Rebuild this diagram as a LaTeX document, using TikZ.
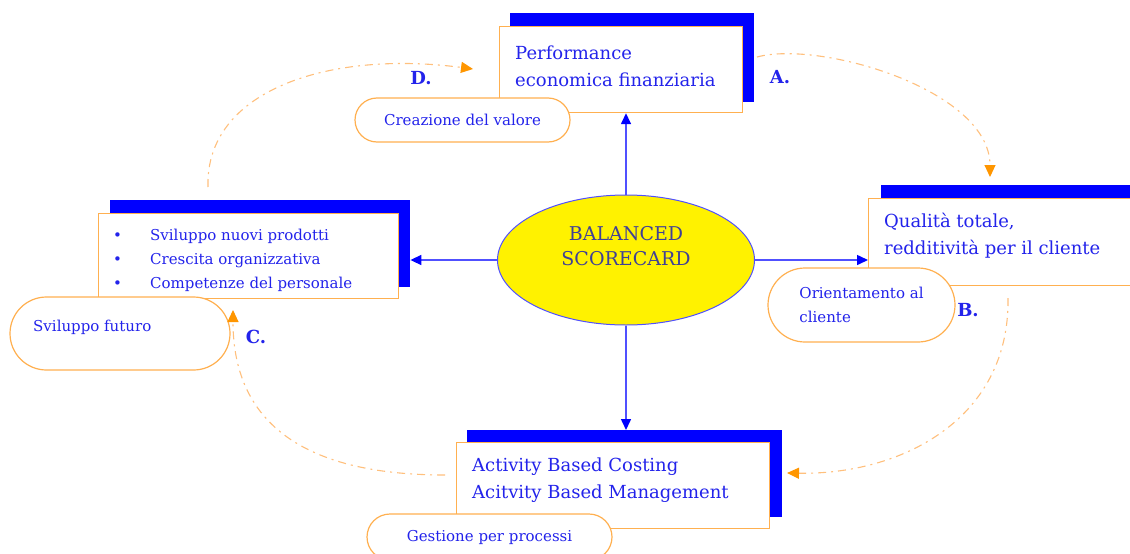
\documentclass[tikz,border=0pt]{standalone}
\usepackage{fontspec}
\setmainfont{DejaVu Serif}
\usetikzlibrary{arrows.meta,shapes.misc,shapes.geometric}
\definecolor{txtblue}{RGB}{35,35,235}
\definecolor{shblue}{RGB}{0,0,255}
\definecolor{boxorange}{RGB}{255,176,80}
\definecolor{dashorange}{RGB}{255,192,125}
\definecolor{tiporange}{RGB}{255,150,0}
\definecolor{linkblue}{RGB}{80,80,255}
\definecolor{ellblue}{RGB}{64,64,150}
\begin{document}
\begin{tikzpicture}[x=1pt,y=-1pt,
  shadowbox/.style={fill=shblue, draw=none, inner sep=0pt, anchor=north west},
  card/.style={draw=boxorange, line width=1.2pt, fill=white, inner sep=0pt, anchor=north west},
  cardtext/.style={text=txtblue, font=\fontsize{18}{27}\selectfont, align=left, anchor=west, inner sep=0pt},
  listtext/.style={text=txtblue, font=\fontsize{15}{24}\selectfont, align=left, anchor=west, inner sep=0pt},
  pill/.style={rounded rectangle, draw=boxorange, line width=1.2pt, fill=white, inner sep=0pt, anchor=center,
    text=txtblue, font=\fontsize{15}{24}\selectfont, align=left},
  pilltext/.style={text=txtblue, font=\fontsize{15}{24}\selectfont, align=left, inner sep=0pt},
  letter/.style={text=txtblue, font=\bfseries\fontsize{18}{20}\selectfont, inner sep=0pt},
  link/.style={draw=linkblue, line width=1.5pt, -{Triangle[length=11pt,width=10pt,color=shblue]}},
  cyc/.style={draw=dashorange, line width=1.1pt, dash pattern=on 8pt off 5pt on 2pt off 5pt,
    -{Triangle[length=12pt,width=11pt,color=tiporange]}}
]
\clip (0,0) rectangle (1130,554);
\fill[white] (0,0) rectangle (1130,554);

% shadows
\node[shadowbox, minimum width=244, minimum height=89] (perfsh) at (510,13) {};
\node[shadowbox, minimum width=300, minimum height=87] (leftsh) at (110,200) {};
\node[shadowbox, minimum width=262, minimum height=87] (rightsh) at (881,185) {};
\node[shadowbox, minimum width=315, minimum height=87] (botsh) at (467,430) {};

% cards
\node[card, minimum width=243, minimum height=86] (perf) at (499,26) {};
\node[card, minimum width=300, minimum height=85] (left) at (98,213) {};
\node[card, minimum width=262, minimum height=87] (right) at (868,198) {};
\node[card, minimum width=313, minimum height=86] (bot) at (456,442) {};

% card texts
\node[cardtext] (perftext) at (515,66) {Performance\\economica finanziaria};
\node[cardtext] (righttext) at (884,236) {Qualità totale,\\redditività per il cliente};
\node[cardtext] (bottext) at (472,480) {Activity Based Costing\\Acitvity Based Management};
\node[listtext] (lefttext) at (113,260) {\makebox[37pt][l]{\textbullet}Sviluppo nuovi prodotti\\
  \makebox[37pt][l]{\textbullet}Crescita organizzativa\\
  \makebox[37pt][l]{\textbullet}Competenze del personale};

% pills
\node[pill, minimum width=215, minimum height=44] (valore) at (462.5,120) {Creazione del valore};
\node[pill, minimum width=220, minimum height=73] (futuro) at (120,333.5) {};
\node[pilltext, anchor=west] (futurotext) at (33,327) {Sviluppo futuro};
\node[pill, minimum width=187, minimum height=74] (cliente) at (861.5,305) {Orientamento al\\cliente};
\node[pill, minimum width=245, minimum height=46] (processi) at (489.5,537) {Gestione per processi};

% centre
\node[ellipse, draw=linkblue, line width=1pt, fill=yellow, minimum width=257, minimum height=130,
  inner sep=0pt, text=ellblue, font=\fontsize{19}{25}\selectfont, align=center] (bsc) at (626,260)
  {BALANCED\\SCORECARD\\[4pt]\mbox{}};

% blue links
\draw[link] (bsc.north) -- (bsc.north |- perf.south);
\draw[link] (bsc.west) -- (bsc.west -| leftsh.east);
\draw[link] (bsc.east) -- (bsc.east -| right.west);
\draw[link] (bsc.south) -- (bsc.south |- botsh.north);

% letters
\node[letter] (la) at (780,77) {A.};
\node[letter] (lb) at (968,310) {B.};
\node[letter] (lc) at (256,337) {C.};
\node[letter] (ld) at (421,78) {D.};

% cycle
\coordinate (a0) at (757,57);
\coordinate (a1) at (990,177);
\coordinate (b0) at (1008,298);
\coordinate (b1) at (787,473);
\coordinate (c0) at (445,475);
\coordinate (c1) at (233,310);
\coordinate (d0) at (208,187);
\coordinate (d1) at (473,69);
\draw[cyc] (a0) .. controls (820,40) and (990,90) .. (a1);
\draw[cyc] (b0) .. controls (1010,420) and (900,475) .. (b1);
\draw[cyc] (c0) .. controls (300,475) and (233,420) .. (c1);
\draw[cyc] (d0) .. controls (205,90) and (330,50) .. (d1);
\end{tikzpicture}
\end{document}
